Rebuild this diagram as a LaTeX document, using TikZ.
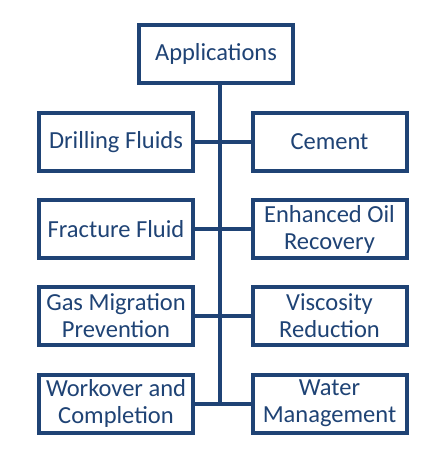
\documentclass[tikz,border=0pt]{standalone}
\usepackage{fontspec}
\setmainfont{Carlito}
\definecolor{navy}{HTML}{1F4375}
\begin{document}
\begin{tikzpicture}[x=1pt,y=-1pt,
  box/.style={draw=navy, line width=4pt, fill=white, minimum width=154pt, minimum height=58pt,
    inner sep=1pt, align=center, text=navy, font=\fontsize{24.5}{27}\selectfont},
  link/.style={draw=navy, line width=4pt}]
\useasboundingbox (0,0) rectangle (446,475);
\node[box] (app) at (216,53.5) {Applications};
\node[box] (l1) at (116,142) {Drilling Fluids};
\node[box] (r1) at (329.5,142) {Cement};
\node[box] (l2) at (116,229) {Fracture Fluid};
\node[box] (r2) at (329.5,229) {Enhanced Oil\\Recovery};
\node[box] (l3) at (116,316) {Gas Migration\\Prevention};
\node[box] (r3) at (329.5,316) {Viscosity\\Reduction};
\node[box] (l4) at (116,403.5) {Workover and\\Completion};
\node[box] (r4) at (329.5,403.5) {Water\\Management};
\coordinate (t0) at (220,82);
\coordinate (t1) at (220,142);
\coordinate (t2) at (220,229);
\coordinate (t3) at (220,316);
\coordinate (t4) at (220,403.5);
\draw[link] (t0) -- ([yshift=2pt]t4);
\foreach \i in {1,2,3,4}{
  \draw[link] (l\i.east) -- (t\i);
  \draw[link] (t\i) -- (r\i.west);
}
\end{tikzpicture}
\end{document}
